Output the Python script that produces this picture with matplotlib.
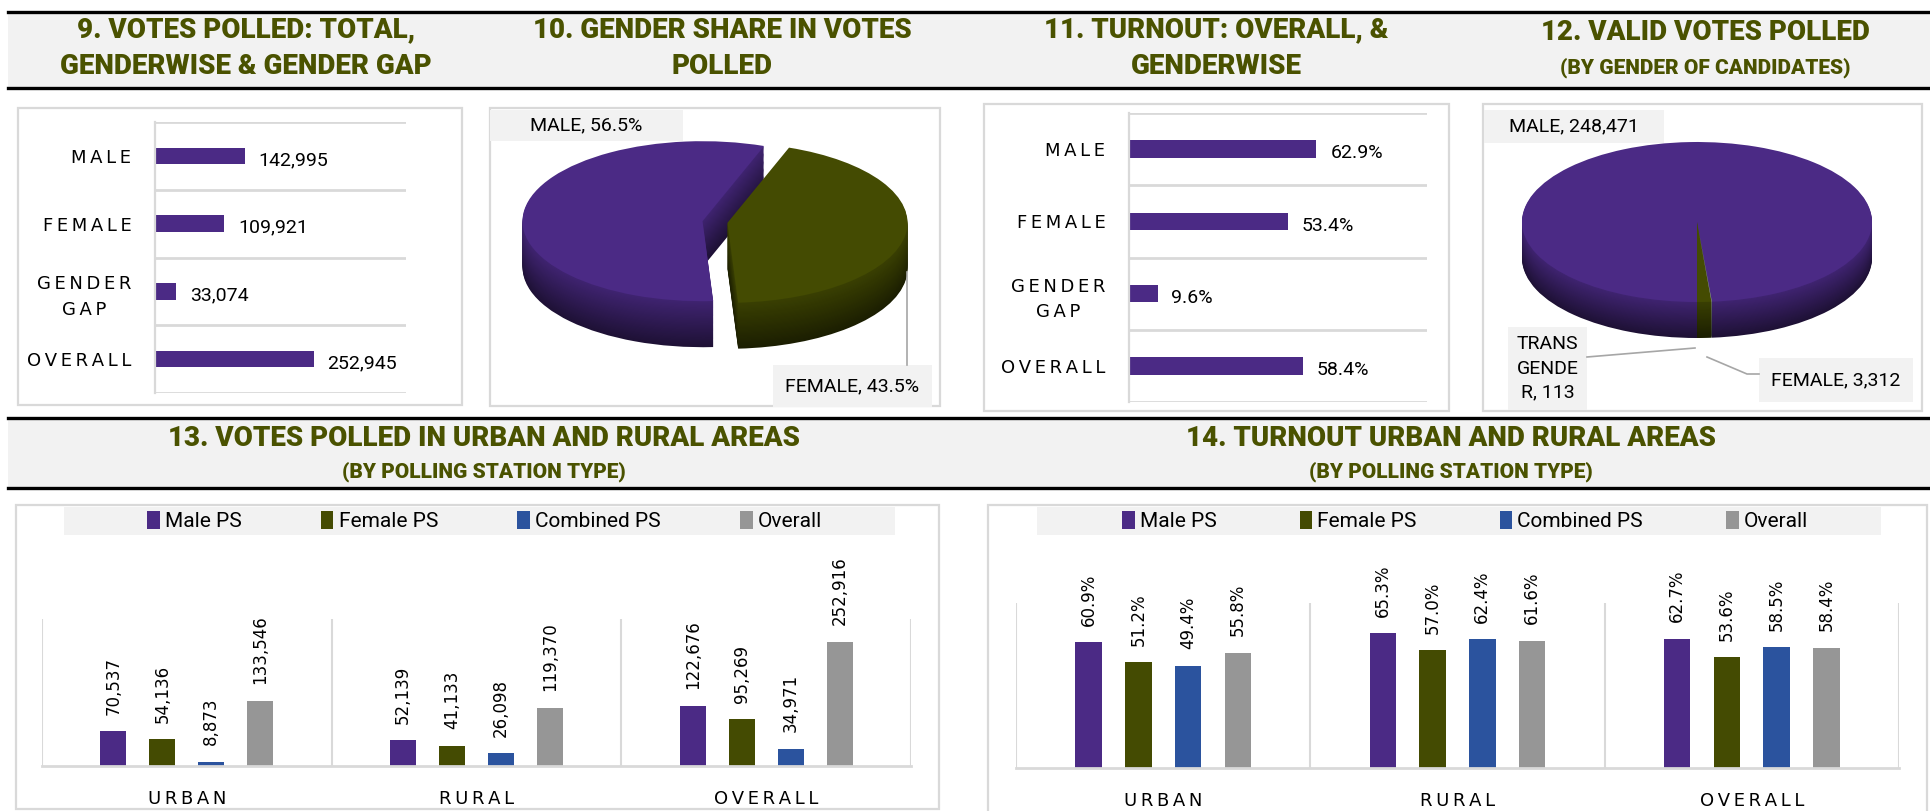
import matplotlib.pyplot as plt
from matplotlib.patches import Rectangle
import numpy as np

plt.rcParams['font.family'] = ['DejaVu Sans']
COND = dict(family=['Roboto', 'DejaVu Sans'], stretch='condensed')

# ---- data ----
gender_cats = ['MALE', 'FEMALE', 'GENDER\nGAP', 'OVERALL']
votes_polled = [142995, 109921, 33074, 252945]
turnout = [62.9, 53.4, 9.6, 58.4]

share_labels = ['MALE', 'FEMALE']
share_values = [56.5, 43.5]

cand_labels = ['MALE', 'FEMALE', 'TRANSGENDER']
cand_votes = [248471, 3312, 113]

area_cats = ['URBAN', 'RURAL', 'OVERALL']
ps_types = ['Male PS', 'Female PS', 'Combined PS', 'Overall']
male_ps_votes = [70537, 52139, 122676]
female_ps_votes = [54136, 41133, 95269]
combined_ps_votes = [8873, 26098, 34971]
overall_votes = [133546, 119370, 252916]
male_ps_turnout = [60.9, 65.3, 62.7]
female_ps_turnout = [51.2, 57.0, 53.6]
combined_ps_turnout = [49.4, 62.4, 58.5]
overall_turnout = [55.8, 61.6, 58.4]

# ---- styles ----
PURPLE = '#4B2A85'
OLIVE = '#444B02'
BLUE = '#2B539E'
GRAY = '#969696'
TITLE = '#4A5200'
GRID = '#D9D9D9'
BAND = '#F2F2F2'
LEADER = '#A6A6A6'
ps_colors = [PURPLE, OLIVE, BLUE, GRAY]

W, H = 1931, 811
fig = plt.figure(figsize=(W / 100, H / 100), dpi=100)


def overlay(z):
    ax = fig.add_axes([0, 0, 1, 1], zorder=z)
    ax.set_xlim(0, W)
    ax.set_ylim(H, 0)
    ax.set_autoscale_on(False)
    ax.axis('off')
    return ax


def px_axes(x0, y0, x1, y1, z=2):
    ax = fig.add_axes([x0 / W, 1 - y1 / H, (x1 - x0) / W, (y1 - y0) / H], zorder=z)
    ax.patch.set_visible(False)
    return ax


def spaced(s):
    return '\n'.join('\u2009'.join(line) for line in s.split('\n'))


bg = overlay(0)

# header bands
for y0, y1 in [(12, 88), (418, 488)]:
    bg.add_patch(Rectangle((8, y0), W - 8, y1 - y0, facecolor=BAND, edgecolor='none'))
    bg.plot([8, W], [y0, y0], color='black', lw=2.4)
    bg.plot([8, W], [y1, y1], color='black', lw=2.4)

titles = [
    (246, 30, '9. VOTES POLLED: TOTAL,', 20), (246, 67, 'GENDERWISE & GENDER GAP', 20),
    (722, 30, '10. GENDER SHARE IN VOTES', 20), (722, 67, 'POLLED', 20),
    (1216, 30, '11. TURNOUT: OVERALL, &', 20), (1216, 67, 'GENDERWISE', 20),
    (1705, 32, '12. VALID VOTES POLLED', 20), (1705, 68, '(BY GENDER OF CANDIDATES)', 15),
    (484, 438, '13. VOTES POLLED IN URBAN AND RURAL AREAS', 20), (484, 472, '(BY POLLING STATION TYPE)', 15),
    (1451, 438, '14. TURNOUT URBAN AND RURAL AREAS', 20), (1451, 472, '(BY POLLING STATION TYPE)', 15),
]
for x, y, s, fs in titles:
    bg.text(x, y, s, ha='center', va='center', fontsize=fs, fontweight=800,
            color=TITLE, **COND)

# chart boxes
for x0, y0, x1, y1 in [(18, 108, 462, 405), (490, 108, 940, 406), (984, 104, 1449, 411),
                       (1483, 104, 1922, 411), (16, 505, 939, 809), (988, 505, 1927, 830)]:
    bg.add_patch(Rectangle((x0, y0), x1 - x0, y1 - y0, facecolor='white', edgecolor=GRID, lw=1.6))

# legend bands
bg.add_patch(Rectangle((64, 507), 831, 28, facecolor=BAND, edgecolor='none'))
bg.add_patch(Rectangle((1037, 507), 844, 28, facecolor=BAND, edgecolor='none'))


def hbar_panel(ax, values, xmax, fmt):
    y = np.arange(len(gender_cats))
    ax.barh(y, values, height=0.24, color=PURPLE)
    ax.set_ylim(len(gender_cats) - 0.5, -0.5)
    ax.set_xlim(0, xmax)
    for g in np.arange(-0.5, len(gender_cats)):
        ax.axhline(g, color=GRID, lw=2, zorder=0)
    ax.set_yticks(y)
    ax.set_yticklabels([spaced(c) for c in gender_cats], fontsize=13, multialignment='center')
    for lbl in ax.get_yticklabels():
        lbl.set_linespacing(1.55)
    ax.tick_params(axis='y', length=0, pad=17)
    ax.set_xticks([])
    for s in ['top', 'right', 'bottom']:
        ax.spines[s].set_visible(False)
    ax.spines['left'].set_color(GRID)
    ax.spines['left'].set_linewidth(1.6)
    for yy, v in zip(y, values):
        ax.annotate(fmt(v), (v, yy), xytext=(10, -3), textcoords='offset points',
                    va='center', ha='left', fontsize=14, **COND)


ax9 = px_axes(155, 122, 406, 393)
hbar_panel(ax9, votes_polled, 400000, lambda v: f'{v:,}')
ax11 = px_axes(1129, 113, 1427, 402)
hbar_panel(ax11, turnout, 100, lambda v: f'{v:.1f}%')


def shade(c, f):
    c = np.array(plt.matplotlib.colors.to_rgb(c))
    return tuple(np.clip(c * f, 0, 1))


def pie3d(ax, values, colors, startangle, explode, depth, box, center, rx, ry):
    n = 40
    for k in range(n, 0, -1):
        t = k / n
        side = [shade(c, 0.85 - 0.45 * t) for c in colors]
        ax.pie(values, colors=side, startangle=startangle, explode=explode,
               center=(0, -depth * t), wedgeprops=dict(linewidth=0))
    ax.pie(values, colors=colors, startangle=startangle, explode=explode,
           center=(0, 0), wedgeprops=dict(linewidth=0))
    ax.set_aspect('auto')
    x0, y0, x1, y1 = box
    cx, cy = center
    ax.set_xlim((x0 - cx) / rx, (x1 - cx) / rx)
    ax.set_ylim(-(y1 - cy) / ry, -(y0 - cy) / ry)
    ax.axis('off')


box10 = (492, 110, 938, 404)
ax10 = px_axes(*box10)
pie3d(ax10, share_values, [PURPLE, OLIVE], 70, [0.07, 0.07], 46 / 80, box10, (715, 222), 180, 80)

box12 = (1485, 106, 1920, 409)
ax12 = px_axes(*box12)
pie3d(ax12, cand_votes, [PURPLE, OLIVE, '#8A9A8A'], -85.1, [0, 0, 0], 36 / 80, box12, (1697, 222), 175, 80)

# pie labels
top = overlay(5)


def label_box(x0, y0, x1, y1, text):
    top.add_patch(Rectangle((x0, y0), x1 - x0, y1 - y0, facecolor=BAND, edgecolor='none'))
    top.text((x0 + x1) / 2, (y0 + y1) / 2, text, ha='center', va='center',
             fontsize=14, linespacing=1.45, **COND)


label_box(490, 110, 683, 141, f'{share_labels[0]}, {share_values[0]}%')
top.plot([907, 907], [272, 365], color=LEADER, lw=1.2)
label_box(773, 365, 932, 407, f'{share_labels[1]}, {share_values[1]}%')

label_box(1484, 110, 1664, 143, f'{cand_labels[0]}, {cand_votes[0]:,}')
label_box(1759, 358, 1913, 402, f'{cand_labels[1]}, {cand_votes[1]:,}')
tg = cand_labels[2]
label_box(1508, 327, 1587, 410, f'{tg[:5]}\n{tg[5:10]}\n{tg[10:]}, {cand_votes[2]}')
top.plot([1587, 1695], [357, 348], color=LEADER, lw=1.2)
top.plot([1707, 1747, 1759], [357, 374, 374], color=LEADER, lw=1.2)


def vbar_panel(ax, series, ymax, fmt, legend_box):
    x = np.arange(len(area_cats))
    step, width = 0.169, 0.09
    for i, (vals, color, name) in enumerate(zip(series, ps_colors, ps_types)):
        pos = x + (i - 1.5) * step
        ax.bar(pos, vals, width, color=color, label=name)
        for p, v in zip(pos, vals):
            ax.annotate(fmt(v), (p, v), xytext=(0, 12), textcoords='offset points',
                        rotation=90, ha='center', va='bottom', fontsize=12,
                        annotation_clip=False)
    ax.set_xlim(-0.5, len(area_cats) - 0.5)
    ax.set_ylim(0, ymax)
    for s in np.arange(-0.5, len(area_cats)):
        ax.axvline(s, color=GRID, lw=1.5, zorder=0)
    ax.set_yticks([])
    ax.set_xticks(x)
    ax.set_xticklabels([spaced(c) for c in area_cats], fontsize=13)
    ax.tick_params(axis='x', length=0, pad=17)
    for s in ['top', 'right', 'left']:
        ax.spines[s].set_visible(False)
    ax.spines['bottom'].set_color(GRID)
    ax.spines['bottom'].set_linewidth(2)
    x0, y0, x1, y1 = legend_box
    ax.legend(loc='center', bbox_to_anchor=(x0 / W, 1 - y1 / H, (x1 - x0) / W, (y1 - y0) / H),
              bbox_transform=fig.transFigure, mode='expand', ncol=4, frameon=False,
              handlelength=0.6, handleheight=1.0, handletextpad=0.25, borderaxespad=0,
              borderpad=0, prop={'family': COND['family'], 'stretch': 'condensed', 'size': 15})


ax13 = px_axes(42, 619, 911, 766)
vbar_panel(ax13, [male_ps_votes, female_ps_votes, combined_ps_votes, overall_votes],
           300000, lambda v: f'{v:,}', (147, 507, 822, 535))
ax14 = px_axes(1016, 603, 1899, 768)
vbar_panel(ax14, [male_ps_turnout, female_ps_turnout, combined_ps_turnout, overall_turnout],
           80, lambda v: f'{v:.1f}%', (1122, 507, 1808, 535))

fig.savefig('out.png', dpi=100)
